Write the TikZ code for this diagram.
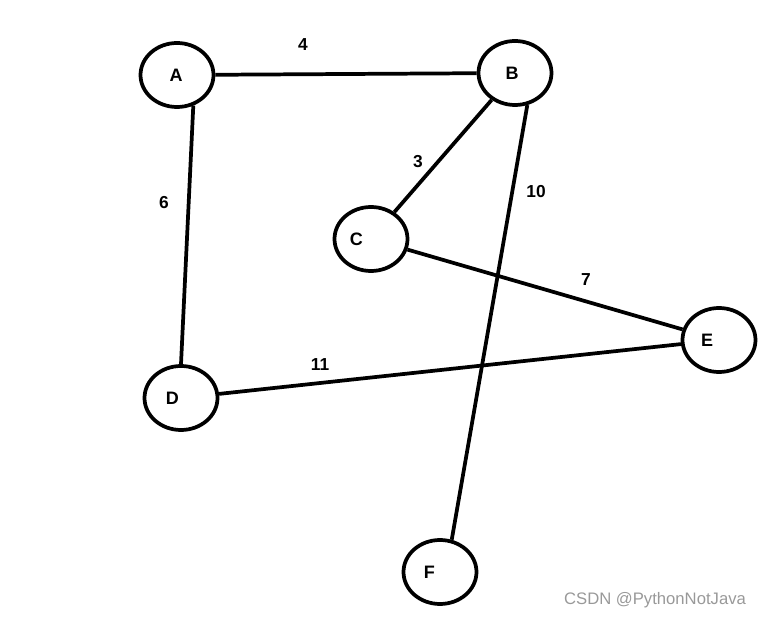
\documentclass[tikz,border=0pt]{standalone}
\usepackage{fontspec}
\setmainfont{Liberation Sans}
\usetikzlibrary{shapes.geometric}
\tikzset{
  vertex/.style = {draw, ellipse, line width = 2.8pt, inner sep = 0pt,
    minimum width = 54.75pt, minimum height = 48pt},
  vname/.style = {font = \bfseries\fontsize{13.5}{15}\selectfont},
  weight/.style = {font = \bfseries\fontsize{13}{15}\selectfont, inner sep = 0pt},
  edge/.style = {line width = 2.8pt}
}
\begin{document}
\begin{tikzpicture}[x = 0.75pt, y = -0.75pt]
\useasboundingbox (0, 0) rectangle (765, 620);
% vertices
\node[vertex, label = {[vname, xshift = -0.75pt]center:A}] (A) at (177, 75) {};
\node[vertex, label = {[vname, xshift = -2.25pt]center:B}] (B) at (515, 73) {};
\node[vertex, label = {[vname, xshift = -11pt]center:C}] (C) at (371, 239) {};
\node[vertex, label = {[vname, xshift = -6.5pt]center:D}] (D) at (181, 398) {};
\node[vertex, label = {[vname, xshift = -9pt]center:E}] (E) at (719, 340) {};
\node[vertex, label = {[vname, xshift = -8pt]center:F}] (F) at (440, 572) {};
% edges
\draw[edge] (A) -- (B);
\draw[edge] (A.-62) -- (D.north);
\draw[edge] (B) -- (C);
\draw[edge] (B.-69) -- (F.70);
\draw[edge] (C) -- (E);
\draw[edge] (D) -- (E);
% weights
\node[weight] (wAB) at (303, 45) {4};
\node[weight] (wAD) at (164, 203) {6};
\node[weight] (wBC) at (418, 162) {3};
\node[weight] (wBF) at (536, 192) {10};
\node[weight] (wCE) at (586, 280) {7};
\node[weight] (wDE) at (320, 365) {11};
% watermark
\node[text = black!40, font = \fontsize{12.5}{15}\selectfont] (mark) at (655, 600) {CSDN @PythonNotJava};
\end{tikzpicture}
\end{document}
